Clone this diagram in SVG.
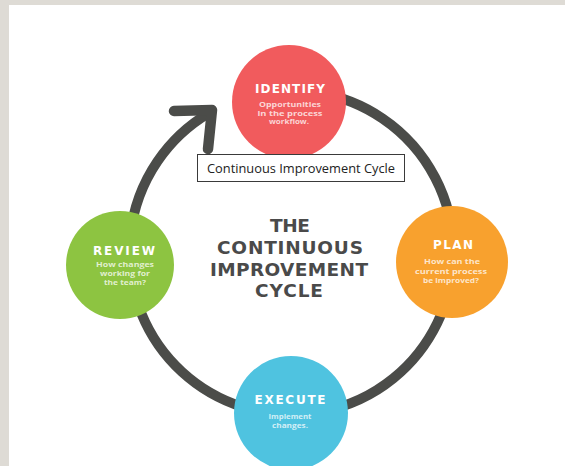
<svg xmlns="http://www.w3.org/2000/svg" width="565" height="466" viewBox="0 0 565 466">
  <style>
    .head { font-family: "DejaVu Sans", "Liberation Sans", sans-serif; font-weight: bold; font-size: 12px; fill: #ffffff; text-anchor: middle; }
    .sub { font-family: "Open Sans", "Liberation Sans", sans-serif; font-weight: bold; font-size: 7.4px; fill: #ffffff; fill-opacity: 0.75; text-anchor: middle; }
    .title { font-family: "DejaVu Sans", "Liberation Sans", sans-serif; font-weight: bold; font-size: 18.5px; fill: #4a4a4a; text-anchor: middle; }
    .ring { fill: none; stroke: #4b4c49; stroke-width: 10; stroke-linecap: butt; }
    .arrowhead { fill: none; stroke: #4b4c49; stroke-width: 10.5; stroke-linecap: round; stroke-linejoin: round; }
    .label { font-family: "Open Sans", "Liberation Sans", sans-serif; font-size: 12.5px; fill: #222222; text-anchor: middle; }
  </style>
  <rect x="0" y="0" width="565" height="466" fill="#dedbd5"/>
  <rect x="9" y="5" width="556" height="461" fill="#ffffff"/>

  <g id="connectors">
    <path class="ring" d="M317.1,92.5 A162,162 0 1 1 209,113"/>
    <path class="arrowhead" d="M174,111 L212,110 L208,149"/>
  </g>

  <g id="node-identify">
    <circle cx="289" cy="102" r="57" fill="#f15b5d"/>
    <text class="head" x="290" y="93" textLength="70" lengthAdjust="spacing">IDENTIFY</text>
    <text class="sub" x="290" y="107" textLength="62" lengthAdjust="spacingAndGlyphs">Opportunities</text>
    <text class="sub" x="290" y="115.5" textLength="65" lengthAdjust="spacingAndGlyphs">in the process</text>
    <text class="sub" x="289" y="124" textLength="40" lengthAdjust="spacingAndGlyphs">workflow.</text>
  </g>

  <g id="node-plan">
    <circle cx="452" cy="262" r="56" fill="#f8a12e"/>
    <text class="head" x="453" y="249" textLength="40" lengthAdjust="spacing">PLAN</text>
    <text class="sub" x="452" y="264" textLength="56" lengthAdjust="spacingAndGlyphs">How can the</text>
    <text class="sub" x="451" y="273.5" textLength="72" lengthAdjust="spacingAndGlyphs">current process</text>
    <text class="sub" x="451" y="283" textLength="56" lengthAdjust="spacingAndGlyphs">be improved?</text>
  </g>

  <g id="node-execute">
    <circle cx="291" cy="413" r="57" fill="#4fc3e0"/>
    <text class="head" x="290" y="404" textLength="71" lengthAdjust="spacing">EXECUTE</text>
    <text class="sub" x="290" y="419" textLength="43" lengthAdjust="spacingAndGlyphs">Implement</text>
    <text class="sub" x="290" y="428" textLength="36" lengthAdjust="spacingAndGlyphs">changes.</text>
  </g>

  <g id="node-review">
    <circle cx="120" cy="265" r="54" fill="#8dc441"/>
    <text class="head" x="124" y="255" textLength="62" lengthAdjust="spacing">REVIEW</text>
    <text class="sub" x="125" y="267" textLength="58" lengthAdjust="spacingAndGlyphs">How changes</text>
    <text class="sub" x="125" y="276" textLength="50" lengthAdjust="spacingAndGlyphs">working for</text>
    <text class="sub" x="125" y="285" textLength="42" lengthAdjust="spacingAndGlyphs">the team?</text>
  </g>

  <g id="title">
    <text class="title" x="290" y="232" textLength="40" lengthAdjust="spacing">THE</text>
    <text class="title" x="290" y="253.5" textLength="146" lengthAdjust="spacing">CONTINUOUS</text>
    <text class="title" x="289" y="276" textLength="158" lengthAdjust="spacing">IMPROVEMENT</text>
    <text class="title" x="289" y="297" textLength="68" lengthAdjust="spacing">CYCLE</text>
  </g>

  <g id="label">
    <rect x="197.5" y="154.5" width="207" height="27" fill="#ffffff" stroke="#3a3a3a" stroke-width="1"/>
    <text class="label" x="301" y="173" textLength="188" lengthAdjust="spacingAndGlyphs">Continuous Improvement Cycle</text>
  </g>
</svg>
